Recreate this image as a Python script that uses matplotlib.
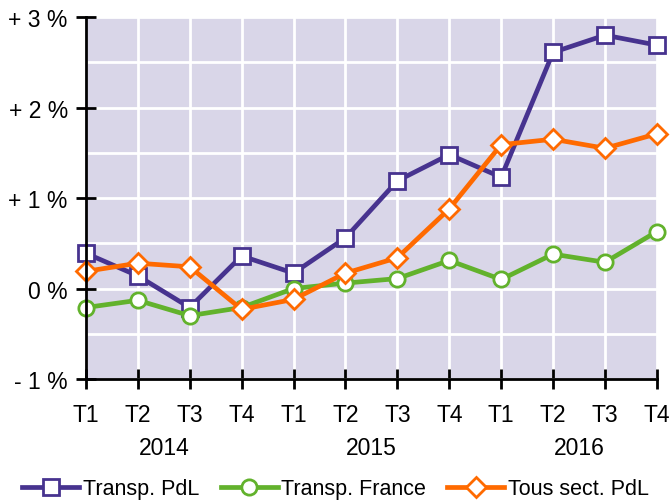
import matplotlib
matplotlib.use("Agg")
import matplotlib.pyplot as plt
from matplotlib.ticker import MultipleLocator

plt.rcParams['font.family'] = ['Liberation Sans', 'DejaVu Sans']

quarters = ["T1", "T2", "T3", "T4"] * 3
years = ["2014", "2015", "2016"]
pdl = [0.39, 0.14, -0.21, 0.36, 0.17, 0.56, 1.19, 1.48, 1.23, 2.61, 2.80, 2.69]
france = [-0.21, -0.13, -0.30, -0.21, 0.00, 0.06, 0.11, 0.31, 0.10, 0.38, 0.29, 0.63]
tous = [0.19, 0.28, 0.24, -0.23, -0.12, 0.17, 0.34, 0.88, 1.59, 1.65, 1.55, 1.71]
ytick_vals = [-1, 0, 1, 2, 3]
ytick_labels = ["- 1 %", "0 %", "+ 1 %", "+ 2 %", "+ 3 %"]

fig = plt.figure(figsize=(6.71, 5.02), dpi=100)
ax = fig.add_axes([0.128, 0.243, 0.851, 0.721])
ax.set_facecolor("#d9d6e8")
x = list(range(len(quarters)))

purple = "#47338f"
green = "#62b22c"
orange = "#ff6a00"

ax.plot(x, pdl, color=purple, lw=3.4, marker="s", ms=11, mfc="white", mec=purple, mew=2,
        label="Transp. PdL", zorder=3, clip_on=False)
ax.plot(x, france, color=green, lw=3.4, marker="o", ms=11, mfc="white", mec=green, mew=2,
        label="Transp. France", zorder=3, clip_on=False)
ax.plot(x, tous, color=orange, lw=3.4, marker="D", ms=10, mfc="white", mec=orange, mew=2,
        label="Tous sect. PdL", zorder=4, clip_on=False)

ax.set_xlim(0, 11)
ax.set_ylim(-1, 3)
ax.set_xticks(x)
ax.set_xticklabels(quarters, fontsize=16.5)
ax.set_yticks(ytick_vals)
ax.set_yticklabels(ytick_labels, fontsize=16.5)
ax.yaxis.set_minor_locator(MultipleLocator(0.5))
ax.grid(True, which="both", axis="y", color="white", lw=2)
ax.grid(True, which="major", axis="x", color="white", lw=2)
ax.set_axisbelow(True)
for s in ["top", "right"]:
    ax.spines[s].set_visible(False)
for s in ["left", "bottom"]:
    ax.spines[s].set_linewidth(2)
    ax.spines[s].set_zorder(5)
ax.tick_params(axis="both", which="major", direction="inout", length=14, width=2, pad=6)
ax.tick_params(axis="y", which="minor", length=0)
ax.tick_params(axis="x", pad=10)

for i, yr in enumerate(years):
    ax.text(4 * i + 1.5, -0.19, yr, transform=ax.get_xaxis_transform(), ha="center", va="center", fontsize=16.5)

fig.legend(loc="lower center", bbox_to_anchor=(0.5, -0.035), ncol=3, frameon=False, fontsize=15.5,
           handlelength=2.65, handletextpad=0.15, columnspacing=1.0)

fig.savefig("out.png", dpi=100)
